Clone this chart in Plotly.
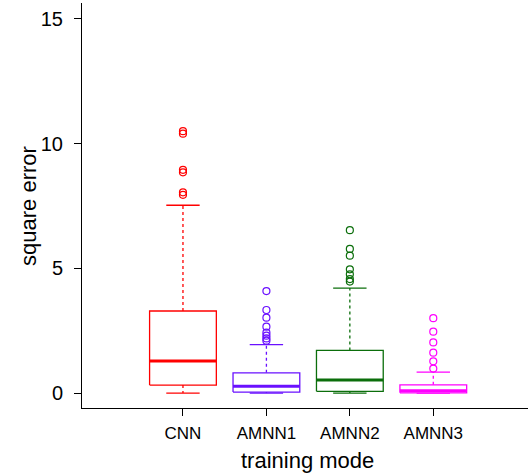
import plotly.graph_objects as go

# Training modes and their five-number summaries of square error
modes = ["CNN", "AMNN1", "AMNN2", "AMNN3"]
positions = [1, 2, 3, 4]
colors = ["#FF0000", "#6A10FF", "#0B6E0B", "#FF00FF"]

lower_whisker = [0.0, 0.0, 0.0, 0.0]
q1 = [0.32, 0.04, 0.07, 0.01]
median = [1.28, 0.27, 0.52, 0.09]
q3 = [3.29, 0.81, 1.71, 0.33]
upper_whisker = [7.53, 1.94, 4.21, 0.84]

# Outlying observations per mode
outliers = [
    [10.50, 10.40, 8.95, 8.85, 8.05, 7.95],
    [4.09, 3.33, 3.02, 2.66, 2.42, 2.30, 2.19, 2.10],
    [6.53, 5.78, 5.51, 4.96, 4.76, 4.57, 4.47],
    [3.00, 2.46, 2.03, 1.62, 1.27, 0.98],
]

box_half = 0.4
cap_half = 0.2

fig = go.Figure()

for i, pos in enumerate(positions):
    c = colors[i]
    # dashed whiskers
    fig.add_trace(go.Scatter(
        x=[pos, pos, None, pos, pos],
        y=[q3[i], upper_whisker[i], None, q1[i], lower_whisker[i]],
        mode="lines", line=dict(color=c, width=1.3, dash="3px,3px"),
        hoverinfo="skip", showlegend=False))
    # whisker caps
    fig.add_trace(go.Scatter(
        x=[pos - cap_half, pos + cap_half, None, pos - cap_half, pos + cap_half],
        y=[upper_whisker[i], upper_whisker[i], None, lower_whisker[i], lower_whisker[i]],
        mode="lines", line=dict(color=c, width=1.3),
        hoverinfo="skip", showlegend=False))
    # box
    fig.add_trace(go.Scatter(
        x=[pos - box_half, pos + box_half, pos + box_half, pos - box_half, pos - box_half],
        y=[q1[i], q1[i], q3[i], q3[i], q1[i]],
        mode="lines", line=dict(color=c, width=1.3),
        fill="toself", fillcolor="white",
        hoverinfo="skip", showlegend=False))
    # median
    fig.add_trace(go.Scatter(
        x=[pos - box_half, pos + box_half],
        y=[median[i], median[i]],
        mode="lines", line=dict(color=c, width=3),
        hoverinfo="skip", showlegend=False))
    # outliers
    fig.add_trace(go.Scatter(
        x=[pos] * len(outliers[i]), y=outliers[i],
        mode="markers",
        marker=dict(symbol="circle-open", size=7, color=c, line=dict(width=1.2, color=c)),
        showlegend=False))

font = "Liberation Sans, Arial, sans-serif"

fig.update_layout(
    width=528, height=473,
    margin=dict(l=82, r=0, t=3, b=65),
    paper_bgcolor="white", plot_bgcolor="white",
    font=dict(family=font, color="black"),
    xaxis=dict(
        range=[-0.21, 5.135],
        tickmode="array", tickvals=positions, ticktext=modes,
        showline=True, linecolor="black", linewidth=1,
        ticks="outside", ticklen=7, tickcolor="black",
        showgrid=False, zeroline=False,
        tickfont=dict(size=17), ticklabelstandoff=3,
    ),
    yaxis=dict(
        range=[-0.6, 15.64],
        tickvals=[0, 5, 10, 15],
        showline=True, linecolor="black", linewidth=1,
        ticks="outside", ticklen=7, tickcolor="black",
        showgrid=False, zeroline=False,
        tickfont=dict(size=20), ticklabelstandoff=7,
    ),
    annotations=[
        dict(text="training mode", xref="paper", yref="paper",
             x=0.505, y=-0.13, xanchor="center", yanchor="middle",
             showarrow=False, font=dict(size=22)),
        dict(text="square error", xref="paper", yref="paper",
             x=-0.12, y=0.5, xanchor="center", yanchor="middle",
             textangle=-90, showarrow=False, font=dict(size=22)),
    ],
)

fig.write_html("out.html")
